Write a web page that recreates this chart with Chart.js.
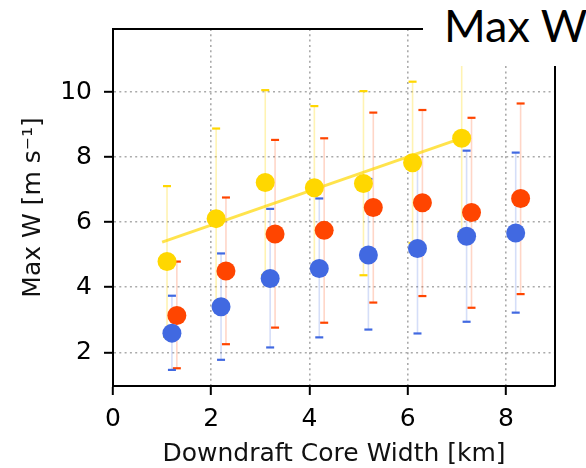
<!DOCTYPE html>
<html>
<head>
<meta charset="utf-8">
<script src="https://cdn.jsdelivr.net/npm/chart.js@4.4.1/dist/chart.umd.min.js"></script>
<style>
  body { margin: 0; background: #fff; }
  #box { position: relative; width: 586px; height: 468px; }
  #titre {
    position: absolute; left: 423px; top: 0; width: 163px; height: 66px;
    background: #fff;
  }
  #titre span {
    position: absolute; left: 21px; top: 3px;
    font-family: Lato, sans-serif; font-size: 45px; line-height: 45px; color: #000;
    white-space: nowrap;
  }
</style>
</head>
<body>
<div id="box">
  <canvas id="graph01" width="586" height="468"></canvas>
  <div id="titre"><span>Max W</span></div>
</div>
<script>
// abscisses (decalees par serie)
const xJaune = [1.1, 2.1, 3.1, 4.1, 5.1, 6.1, 7.1];
const xRouge = [1.3, 2.3, 3.3, 4.3, 5.3, 6.3, 7.3, 8.3];
const xBleu = [1.2, 2.2, 3.2, 4.2, 5.2, 6.2, 7.2, 8.2];

// valeurs moyennes + bornes des barres d'erreur
const jaune = [4.79, 6.11, 7.22, 7.06, 7.19, 7.83, 8.58];
const jauneBas = [2.48, 3.35, 4.38, 4.58, 4.37, 5.35, 5.70];
const jauneHaut = [7.11, 8.88, 10.06, 9.57, 10.03, 10.32, 11.3];

const rouge = [3.13, 4.50, 5.64, 5.75, 6.45, 6.60, 6.30, 6.73];
const rougeBas = [1.51, 2.25, 2.76, 2.91, 3.53, 3.73, 3.37, 3.79];
const rougeHaut = [4.79, 6.76, 8.53, 8.58, 9.37, 9.45, 9.21, 9.65];

const bleu = [2.59, 3.40, 4.27, 4.58, 4.99, 5.19, 5.57, 5.67];
const bleuBas = [1.46, 1.77, 2.15, 2.46, 2.70, 2.58, 2.94, 3.22];
const bleuHaut = [3.74, 5.04, 6.41, 6.73, 7.33, 7.81, 8.20, 8.14];

// droite de tendance (serie jaune)
const tendanceX = [1.0, 7.0];
const tendanceY = [5.39, 8.53];

const xTicks = [0, 2, 4, 6, 8];
const yTicks = [2, 4, 6, 8, 10];

const COULEURS = {
  jaune: '#FFD700',
  rouge: '#FF4500',
  bleu: '#4169E1',
};

function points(xs, ys) {
  return xs.map((x, i) => ({ x: x, y: ys[i] }));
}

/**
 * barres d'erreur dessinees via les echelles du graphique
 */
const barresErreur = {
  id: 'barresErreur',
  beforeDatasetsDraw(chart) {
    const ctx = chart.ctx;
    const sx = chart.scales.x, sy = chart.scales.y;
    const series = [
      [xJaune, jauneBas, jauneHaut, COULEURS.jaune, 'rgba(255,215,0,0.3)'],
      [xRouge, rougeBas, rougeHaut, COULEURS.rouge, 'rgba(255,69,0,0.22)'],
      [xBleu, bleuBas, bleuHaut, COULEURS.bleu, 'rgba(65,105,225,0.22)'],
    ];
    ctx.save();
    ctx.beginPath();
    ctx.rect(chart.chartArea.left, chart.chartArea.top, chart.chartArea.width, chart.chartArea.height);
    ctx.clip();
    series.forEach(([xs, bas, haut, plein, pale]) => {
      xs.forEach((x, i) => {
        const px = sx.getPixelForValue(x);
        const y0 = sy.getPixelForValue(bas[i]);
        const y1 = sy.getPixelForValue(haut[i]);
        ctx.strokeStyle = pale;
        ctx.lineWidth = 1.6;
        ctx.beginPath(); ctx.moveTo(px, y0); ctx.lineTo(px, y1); ctx.stroke();
        ctx.strokeStyle = plein;
        ctx.lineWidth = 2.2;
        [y0, y1].forEach((y) => {
          ctx.beginPath(); ctx.moveTo(px - 4, y); ctx.lineTo(px + 4, y); ctx.stroke();
        });
      });
    });
    ctx.restore();
  },
  afterDraw(chart) {
    // cadre haut et droit
    const a = chart.chartArea, ctx = chart.ctx;
    ctx.save();
    ctx.strokeStyle = '#000';
    ctx.lineWidth = 2;
    ctx.beginPath();
    ctx.moveTo(a.left, a.top); ctx.lineTo(a.right, a.top); ctx.lineTo(a.right, a.bottom);
    ctx.stroke();
    ctx.restore();
  }
};

function graph01() {
  let data = {
    datasets: [
      { type: 'scatter', data: points(xBleu, bleu), backgroundColor: COULEURS.bleu, pointRadius: 9.5, borderWidth: 0, order: 1 },
      { type: 'scatter', data: points(xRouge, rouge), backgroundColor: COULEURS.rouge, pointRadius: 9.5, borderWidth: 0, order: 2 },
      { type: 'scatter', data: points(xJaune, jaune), backgroundColor: COULEURS.jaune, pointRadius: 9.5, borderWidth: 0, order: 3 },
      { type: 'line', data: points(tendanceX, tendanceY), borderColor: 'rgba(255,215,0,0.7)', borderWidth: 3, pointRadius: 0, fill: false, order: 4 },
    ]
  };
  let grille = { color: '#aaaaaa', lineWidth: 1.6, tickColor: '#000', tickWidth: 2, tickLength: 9, tickBorderDash: [] };
  let options = {
    responsive: false,
    animation: false,
    layout: { padding: { top: 29, right: 31, left: 0, bottom: 0 } },
    scales: {
      x: {
        type: 'linear', min: 0, max: 9,
        afterBuildTicks: (s) => { s.ticks = xTicks.map((v) => ({ value: v })); },
        afterFit: (s) => { s.height = 82; },
        grid: grille,
        border: { color: '#000', width: 2, dash: [2, 3.3] },
        ticks: { color: '#000', padding: 9, font: { family: 'DejaVu Sans', size: 25 } },
        title: { display: true, text: 'Downdraft Core Width [km]', color: '#111', padding: { top: 0, bottom: -1 }, font: { family: 'DejaVu Sans', size: 25 } }
      },
      y: {
        type: 'linear', min: 0.965, max: 11.94,
        afterBuildTicks: (s) => { s.ticks = yTicks.map((v) => ({ value: v })); },
        afterFit: (s) => { s.width = 113; },
        grid: grille,
        border: { color: '#000', width: 2, dash: [2, 3.3] },
        ticks: { color: '#000', padding: 12, font: { family: 'DejaVu Sans', size: 25 } },
        title: { display: true, text: 'Max W [m s⁻¹]', color: '#111', padding: { top: 18, bottom: 0 }, font: { family: 'DejaVu Sans', size: 25 } }
      }
    },
    plugins: {
      legend: { display: false },
      tooltip: { enabled: false },
      title: { display: false }
    }
  };
  const ctx = document.getElementById('graph01').getContext('2d');
  new Chart(ctx, { data: data, options: options, plugins: [barresErreur] });
}

graph01();
</script>
</body>
</html>
